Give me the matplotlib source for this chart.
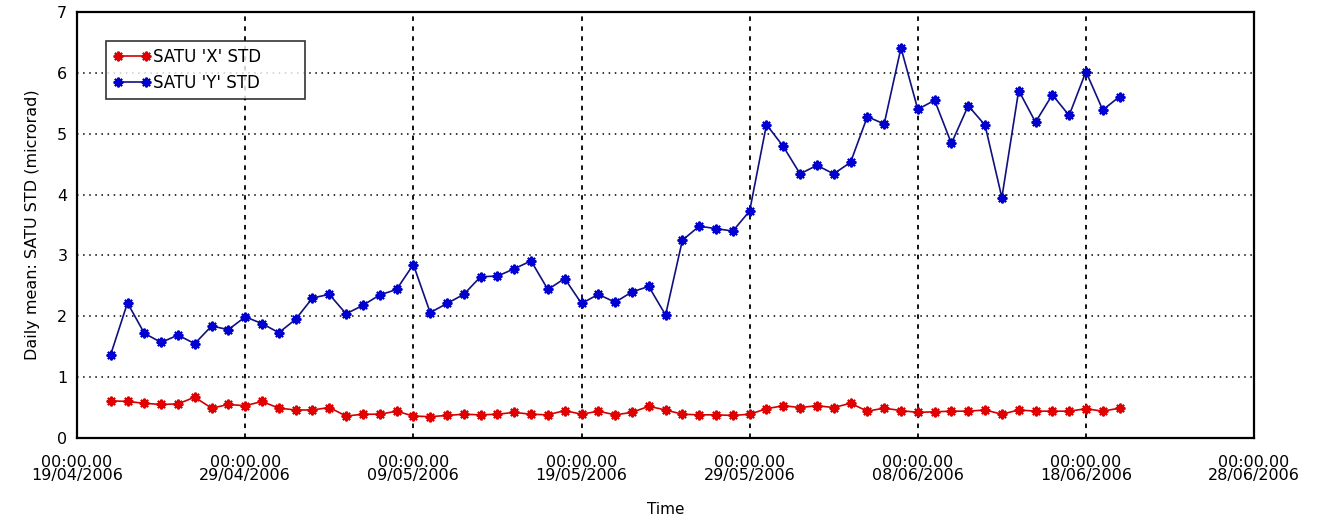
import matplotlib
matplotlib.use("Agg")
import matplotlib.pyplot as plt
import matplotlib.dates as mdates
import numpy as np
import datetime as dt

start_date = dt.datetime(2006, 4, 21)
satu_x_std = [0.61, 0.60, 0.57, 0.55, 0.56, 0.67, 0.49, 0.55, 0.53, 0.60,
              0.49, 0.46, 0.46, 0.50, 0.36, 0.39, 0.39, 0.44, 0.36, 0.35,
              0.37, 0.39, 0.38, 0.39, 0.42, 0.39, 0.38, 0.45, 0.39, 0.44,
              0.38, 0.42, 0.52, 0.46, 0.39, 0.38, 0.38, 0.37, 0.39, 0.48,
              0.53, 0.50, 0.53, 0.50, 0.57, 0.44, 0.49, 0.45, 0.42, 0.43,
              0.44, 0.44, 0.46, 0.39, 0.46, 0.44, 0.44, 0.44, 0.48, 0.44,
              0.49]
satu_y_std = [1.37, 2.22, 1.72, 1.57, 1.69, 1.55, 1.84, 1.78, 1.99, 1.88,
              1.73, 1.95, 2.30, 2.36, 2.04, 2.18, 2.35, 2.44, 2.85, 2.06,
              2.21, 2.36, 2.65, 2.66, 2.78, 2.91, 2.44, 2.62, 2.21, 2.36,
              2.23, 2.40, 2.49, 2.02, 3.25, 3.48, 3.44, 3.40, 3.73, 5.15,
              4.79, 4.34, 4.48, 4.34, 4.53, 5.28, 5.16, 6.41, 5.40, 5.55,
              4.84, 5.46, 5.14, 3.95, 5.71, 5.19, 5.64, 5.30, 6.02, 5.39,
              5.61]
dates = [start_date + dt.timedelta(days=i) for i in range(len(satu_x_std))]
tick_dates = [dt.datetime(2006, 4, 19) + dt.timedelta(days=10 * i) for i in range(8)]
y_ticks = [0, 1, 2, 3, 4, 5, 6, 7]

fig = plt.figure(figsize=(13.24, 5.22), dpi=100)
ax = fig.add_axes([0.0582, 0.161, 0.889, 0.816])

mk = (8, 2, 0)
ax.plot(dates, satu_x_std, color='#d40000', lw=1.2, marker=mk, ms=7, mew=1.5,
        mec='#e00000', label="SATU 'X' STD")
ax.plot(dates, satu_y_std, color='#101080', lw=1.2, marker=mk, ms=7, mew=1.5,
        mec='#0000d0', label="SATU 'Y' STD")

ax.set_xlim(tick_dates[0], tick_dates[-1])
ax.set_ylim(0, 7)
ax.set_xticks(tick_dates)
ax.set_xticklabels(["00:00.00\n" + d.strftime("%d/%m/%Y") for d in tick_dates],
                   fontsize=11.5, linespacing=0.85)
ax.set_yticks(y_ticks)
ax.set_yticklabels([str(v) for v in y_ticks], fontsize=11.5)
ax.tick_params(axis='x', direction='in', length=0, pad=12)
ax.tick_params(axis='y', direction='in', length=0, pad=7)

ax.xaxis.grid(True, color='black', linestyle=(0, (2.5, 3)), linewidth=1.3)
ax.yaxis.grid(True, color='black', linestyle=(0, (1, 3)), linewidth=1.1)

for s in ax.spines.values():
    s.set_linewidth(1.6)
    s.set_color('black')

ax.set_xlabel("Time", fontsize=11, labelpad=14)
ax.set_ylabel("Daily mean: SATU STD (microrad)", fontsize=11.5, labelpad=12)

leg = ax.legend(loc='upper left', bbox_to_anchor=(0.025, 0.932), fontsize=12,
                numpoints=2, handlelength=2.3, handletextpad=0.1,
                borderaxespad=0, borderpad=0.4, labelspacing=0.5,
                frameon=True, fancybox=False, edgecolor='black')
for t in leg.get_texts():
    t.set_text(t.get_text() + "       ")
leg.get_frame().set_linewidth(1.2)

fig.savefig("out.png", dpi=100)
